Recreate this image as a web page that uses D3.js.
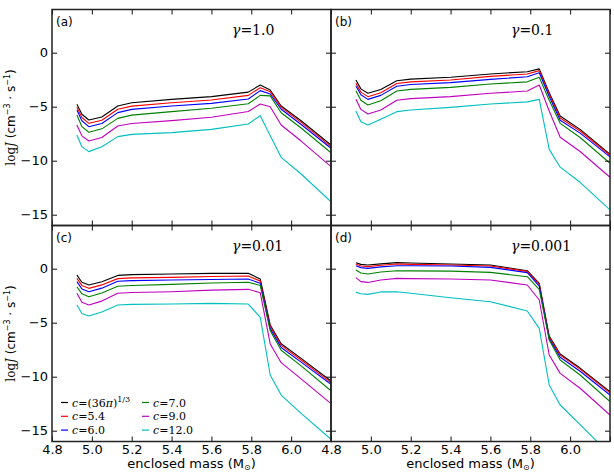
<!DOCTYPE html>
<html>
<head>
<meta charset="utf-8">
<script src="https://cdn.jsdelivr.net/npm/d3@7"></script>
<style>
  body { margin: 0; background: #fff; }
  svg { display: block; font-family: "DejaVu Sans", sans-serif; }
  .tick text { font-size: 13px; fill: #000; }
</style>
</head>
<body>
<div id="chart"></div>
<script>
// shared mass grid (M_sun)
const mass = [4.925, 4.95, 4.985, 5.05, 5.13, 5.2, 5.4, 5.6, 5.785, 5.845, 5.895, 5.95, 6.05, 6.2];

const seriesColors = ['#000000', '#ff0000', '#0000ff', '#008000', '#bf00bf', '#00bfbf'];
const seriesC = ['(36π)^1/3', '5.4', '6.0', '7.0', '9.0', '12.0'];

// (a) gamma = 1.0
const panelA = [
  [-4.78, -5.7, -6.23, -5.95, -4.93, -4.63, -4.32, -4.07, -3.65, -2.99, -3.45, -4.93, -6.3, -8.55],
  [-5.06, -6.0, -6.54, -6.25, -5.24, -4.95, -4.63, -4.38, -3.95, -3.24, -3.61, -5.06, -6.45, -8.7],
  [-5.3, -6.3, -6.85, -6.55, -5.55, -5.25, -4.93, -4.69, -4.28, -3.51, -3.82, -5.24, -6.65, -8.85],
  [-5.77, -6.85, -7.37, -7.05, -6.08, -5.78, -5.46, -5.15, -4.72, -3.95, -4.0, -5.56, -6.97, -9.26],
  [-6.69, -7.7, -8.18, -7.85, -6.79, -6.55, -6.29, -5.98, -5.45, -4.75, -5.0, -6.69, -8.18, -10.55],
  [-7.62, -8.7, -9.16, -8.7, -7.77, -7.56, -7.4, -7.1, -6.6, -5.83, -7.7, -9.69, -11.23, -13.8]
];
// (b) gamma = 0.1
const panelB = [
  [-2.53, -3.35, -3.76, -3.4, -2.6, -2.45, -2.28, -1.97, -1.76, -1.5, -3.7, -5.86, -7.1, -9.4],
  [-2.84, -3.65, -4.07, -3.7, -2.85, -2.7, -2.53, -2.19, -1.97, -1.66, -3.85, -6.05, -7.25, -9.5],
  [-3.08, -3.9, -4.32, -3.95, -3.1, -2.95, -2.77, -2.47, -2.22, -1.85, -4.05, -6.25, -7.45, -9.65],
  [-3.52, -4.4, -4.84, -4.45, -3.55, -3.4, -3.21, -2.9, -2.7, -2.28, -4.4, -6.54, -7.85, -10.24],
  [-4.32, -5.25, -5.68, -5.3, -4.4, -4.25, -4.07, -3.76, -3.55, -2.99, -5.4, -7.83, -9.15, -11.54],
  [-5.4, -6.39, -6.69, -6.17, -5.46, -5.31, -5.06, -4.75, -4.55, -4.32, -8.95, -10.6, -12.0, -14.56]
];
// (c) gamma = 0.01
const panelC = [
  [-0.59, -1.25, -1.51, -1.2, -0.62, -0.55, -0.49, -0.43, -0.43, -0.95, -5.21, -6.95, -8.3, -10.4],
  [-0.9, -1.55, -1.82, -1.5, -0.92, -0.85, -0.8, -0.72, -0.68, -1.15, -5.35, -7.1, -8.45, -10.55],
  [-1.2, -1.87, -2.13, -1.8, -1.16, -1.1, -1.05, -1.0, -0.96, -1.35, -5.55, -7.3, -8.65, -10.7],
  [-1.67, -2.33, -2.59, -2.25, -1.63, -1.55, -1.45, -1.32, -1.26, -1.55, -5.75, -7.55, -9.0, -11.3],
  [-2.28, -3.1, -3.36, -3.0, -2.28, -2.2, -2.13, -1.98, -1.91, -2.22, -6.97, -8.7, -10.2, -12.5],
  [-3.36, -4.15, -4.38, -4.0, -3.36, -3.3, -3.27, -3.21, -3.27, -4.5, -9.84, -11.7, -13.4, -15.8]
];
// (d) gamma = 0.001
const panelD = [
  [0.56, 0.4, 0.34, 0.45, 0.56, 0.53, 0.43, 0.34, -0.19, -1.35, -6.23, -7.9, -9.2, -11.4],
  [0.43, 0.25, 0.19, 0.32, 0.43, 0.4, 0.34, 0.25, -0.25, -1.45, -6.36, -8.0, -9.3, -11.5],
  [0.28, 0.1, 0.03, 0.17, 0.28, 0.27, 0.25, 0.12, -0.36, -1.62, -6.5, -8.2, -9.5, -11.7],
  [-0.12, -0.4, -0.49, -0.3, -0.19, -0.2, -0.22, -0.34, -0.74, -1.91, -6.6, -8.45, -9.84, -12.3],
  [-0.83, -1.2, -1.27, -1.05, -0.9, -0.92, -0.96, -1.05, -1.51, -2.9, -7.99, -9.69, -11.07, -13.55],
  [-2.19, -2.32, -2.38, -2.15, -2.13, -2.28, -2.69, -3.06, -3.92, -5.52, -10.77, -12.62, -14.44, -17.2]
];

const panels = [
  { tag: '(a)', gamma: '1.0', data: panelA, col: 0, row: 0 },
  { tag: '(b)', gamma: '0.1', data: panelB, col: 1, row: 0 },
  { tag: '(c)', gamma: '0.01', data: panelC, col: 0, row: 1 },
  { tag: '(d)', gamma: '0.001', data: panelD, col: 1, row: 1 }
];

const xTicks = [4.8, 5.0, 5.2, 5.4, 5.6, 5.8, 6.0, 6.2];
const yTicks = [0, -5, -10, -15];

const W = 614, H = 474;
const marginLeft = 52, marginTop = 9.5, pw = 279, ph = 216;

const svg = d3.select('#chart').append('svg')
  .attr('width', W).attr('height', H);

const x = d3.scaleLinear().domain([4.8, 6.2]).range([0, pw]);
const y = d3.scaleLinear().domain([-16, 4]).range([ph, 0]);

const line = d3.line()
  .x((d, i) => x(mass[i]))
  .y(d => y(d));

const fmt = d => d < 0 ? '\u2212' + Math.abs(d) : String(d);

panels.forEach((p, pi) => {
  const g = svg.append('g')
    .attr('transform', `translate(${marginLeft + p.col * pw},${marginTop + p.row * ph})`);

  g.append('clipPath').attr('id', 'clip' + pi)
    .append('rect').attr('width', pw).attr('height', ph);

  // curves
  const curves = g.append('g').attr('clip-path', `url(#clip${pi})`);
  p.data.forEach((vals, si) => {
    curves.append('path')
      .datum(vals)
      .attr('d', line)
      .attr('fill', 'none')
      .attr('stroke', seriesColors[si])
      .attr('stroke-width', 1.1)
      .attr('stroke-linejoin', 'round');
  });

  // inward ticks on all four sides
  const bottomAx = d3.axisBottom(x).tickValues(xTicks).tickSizeInner(-5).tickSizeOuter(0)
    .tickFormat(d => (p.row === 1 && d < 6.1) ? d.toFixed(1) : '').tickPadding(3);
  const topAx = d3.axisTop(x).tickValues(xTicks).tickSizeInner(-5).tickSizeOuter(0).tickFormat('');
  const leftAx = d3.axisLeft(y).tickValues(yTicks).tickSizeInner(-5).tickSizeOuter(0)
    .tickFormat(d => p.col === 0 ? fmt(d) : '').tickPadding(4);
  const rightAx = d3.axisRight(y).tickValues(yTicks).tickSizeInner(-5).tickSizeOuter(0).tickFormat('');

  [[bottomAx, `translate(0,${ph})`], [topAx, 'translate(0,0)'],
   [leftAx, 'translate(0,0)'], [rightAx, `translate(${pw},0)`]].forEach(([ax, tr]) => {
    const a = g.append('g').attr('transform', tr).call(ax);
    a.select('.domain').remove();
    a.selectAll('line').attr('stroke', '#111').attr('stroke-width', 1);
    a.selectAll('text').style('font-family', '"DejaVu Sans", sans-serif');
  });

  g.append('rect')
    .attr('width', pw).attr('height', ph)
    .attr('fill', 'none').attr('stroke', '#222').attr('stroke-width', 1.5);

  g.append('text')
    .attr('x', 4).attr('y', 16)
    .style('font-size', '12px')
    .text(p.tag);

  const gt = g.append('text')
    .attr('x', 180).attr('y', 25)
    .style('font-family', '"DejaVu Serif", serif')
    .style('font-size', '14px');
  gt.append('tspan').style('font-style', 'italic').text('\u03b3');
  gt.append('tspan').text('=' + p.gamma);
});

// legend in panel (c)
const leg = svg.append('g').attr('transform', `translate(${marginLeft},${marginTop + ph})`);
seriesC.forEach((val, i) => {
  const cx = i < 3 ? 9 : 90;
  const cy = 177 + (i % 3) * 13.8;
  leg.append('line')
    .attr('x1', cx).attr('x2', cx + 7)
    .attr('y1', cy).attr('y2', cy)
    .attr('stroke', seriesColors[i]).attr('stroke-width', 1.2);
  const t = leg.append('text')
    .attr('x', cx + 11).attr('y', cy + 4)
    .style('font-family', '"DejaVu Serif", serif')
    .style('font-size', '11px');
  t.append('tspan').style('font-style', 'italic').text('c');
  if (val.includes('^')) {
    const sup = val.split('^')[1];
    t.append('tspan').text('=(36');
    t.append('tspan').style('font-style', 'italic').text('\u03c0');
    t.append('tspan').text(')');
    t.append('tspan').attr('dy', -5).style('font-size', '8px').text(sup);
  } else {
    t.append('tspan').text('=' + val);
  }
});

// y labels
[0, 1].forEach(r => {
  const yl = svg.append('text')
    .attr('transform', `translate(15,${marginTop + r * ph + ph / 2}) rotate(-90)`)
    .attr('text-anchor', 'middle')
    .style('font-size', '12px');
  yl.append('tspan').style('font-family', '"DejaVu Serif", serif').text('log');
  yl.append('tspan').style('font-family', '"DejaVu Serif", serif').style('font-style', 'italic').text('J');
  yl.append('tspan').text(' (cm');
  yl.append('tspan').attr('dy', -5).style('font-size', '8px').text('\u22123');
  yl.append('tspan').attr('dy', 5).text(' \u00b7 s');
  yl.append('tspan').attr('dy', -5).style('font-size', '8px').text('\u22121');
  yl.append('tspan').attr('dy', 5).text(')');
});

// x labels
[0, 1].forEach(c => {
  const xl = svg.append('text')
    .attr('x', marginLeft + c * pw + pw / 2).attr('y', 468)
    .attr('text-anchor', 'middle')
    .style('font-size', '13px');
  xl.append('tspan').text('enclosed mass (M');
  xl.append('tspan').attr('dy', 2).style('font-size', '8px').text('\u2299');
  xl.append('tspan').attr('dy', -2).text(')');
});
</script>
</body>
</html>
